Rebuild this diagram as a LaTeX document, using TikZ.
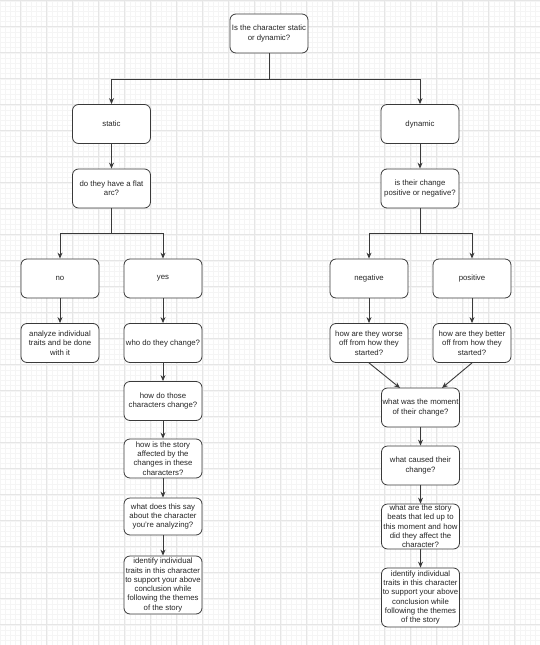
\documentclass[tikz,border=0pt]{standalone}
\usepackage{fontspec}
\setmainfont{Liberation Sans}
\usetikzlibrary{arrows.meta}
\definecolor{gridminor}{HTML}{F5F5F5}
\definecolor{gridmajor}{HTML}{E6E6E6}
\definecolor{edge}{HTML}{3A3A3A}
\definecolor{txt}{HTML}{262626}
\tikzset{
  box/.style={draw=edge, line width=0.8pt, fill=white, rounded corners=6pt,
    minimum width=78pt, minimum height=39pt, inner sep=0pt, align=center,
    text=txt, font=\fontsize{7.8}{9.3}\selectfont},
  conn/.style={draw=edge, line width=0.9pt, -{Stealth[length=6pt,width=5pt]}},
  plain/.style={draw=edge, line width=0.9pt}
}
\begin{document}
\begin{tikzpicture}[x=1pt,y=-1pt]
\useasboundingbox (0,0) rectangle (540,645);
\fill[white] (0,0) rectangle (540,645);
% grid
\foreach \k in {-4,...,100} {
  \pgfmathsetmacro{\gx}{20.7+5.2*\k}
  \draw[gridminor, line width=0.4pt] (\gx,0) -- (\gx,645);
}
\foreach \k in {0,...,125} {
  \pgfmathsetmacro{\gy}{0.7+5.2*\k}
  \draw[gridminor, line width=0.4pt] (0,\gy) -- (540,\gy);
}
\foreach \k in {0,...,20} {
  \pgfmathsetmacro{\gx}{20.7+26*\k}
  \draw[gridmajor, line width=0.6pt] (\gx,0) -- (\gx,645);
}
\foreach \k in {0,...,25} {
  \pgfmathsetmacro{\gy}{0.7+26*\k}
  \draw[gridmajor, line width=0.6pt] (0,\gy) -- (540,\gy);
}
% nodes
\node[box] (top) at (269,33.5) {Is the character static\\or dynamic?};
\node[box] (static) at (111.5,124) {static};
\node[box] (flat) at (111.5,188.5) {do they have a flat\\arc?};
\node[box] (dynamic) at (420,124) {dynamic};
\node[box] (posneg) at (420,188.5) {is their change\\positive or negative?};
\node[box] (no) at (60,278.5) {no};
\node[box] (yes) at (163,278.5) {yes};
\node[box] (analyze) at (60,343) {analyze individual\\traits and be done\\with it};
\node[box] (who) at (163,343) {who do they change?};
\node[box] (howdo) at (163,401) {how do those\\characters change?};
\node[box] (story) at (163,458.5) {how is the story\\affected by the\\changes in these\\characters?};
\node[box, minimum height=37pt] (say) at (163,516.5) {what does this say\\about the character\\you're analyzing?};
\node[box, minimum height=58pt] (identL) at (163,585) {identify individual\\traits in this character\\to support your above\\conclusion while\\following the themes\\of the story};
\node[box] (neg) at (369,278.5) {negative};
\node[box] (pos) at (472,278.5) {positive};
\node[box] (worse) at (369,343) {how are they worse\\off from how they\\started?};
\node[box] (better) at (472,343) {how are they better\\off from how they\\started?};
\node[box] (moment) at (420.5,407.5) {what was the moment\\of their change?};
\node[box] (caused) at (420.5,465.5) {what caused their\\change?};
\node[box, minimum height=45pt] (beats) at (420.5,526.5) {what are the story\\beats that led up to\\this moment and how\\did they affect the\\character?};
\node[box, minimum height=59pt] (identR) at (420.5,597.5) {identify individual\\traits in this character\\to support your above\\conclusion while\\following the themes\\of the story};
% split coordinates
\coordinate (s1) at (269,79);
\coordinate (s2) at (111.5,233);
\coordinate (s3) at (420,233);
\coordinate (m1) at (400,388);
\coordinate (m2) at (442,388);
% connectors
\draw[plain] (top.south) -- (s1);
\draw[conn] (s1) -| (static.north);
\draw[conn] (s1) -| (dynamic.north);
\draw[conn] (static) -- (flat);
\draw[conn] (dynamic) -- (posneg);
\draw[plain] (flat.south) -- (s2);
\draw[conn] (s2) -| (no.north);
\draw[conn] (s2) -| (yes.north);
\draw[plain] (posneg.south) -- (s3);
\draw[conn] (s3) -| (neg.north);
\draw[conn] (s3) -| (pos.north);
\draw[conn] (no) -- (analyze);
\draw[conn] (yes) -- (who);
\draw[conn] (who) -- (howdo);
\draw[conn] (howdo) -- (story);
\draw[conn] (story) -- (say);
\draw[conn] (say) -- (identL);
\draw[conn] (neg) -- (worse);
\draw[conn] (pos) -- (better);
\draw[conn] (worse.south) -- (m1);
\draw[conn] (better.south) -- (m2);
\draw[conn] (moment) -- (caused);
\draw[conn] (caused) -- (beats);
\draw[conn] (beats) -- (identR);
\end{tikzpicture}
\end{document}
